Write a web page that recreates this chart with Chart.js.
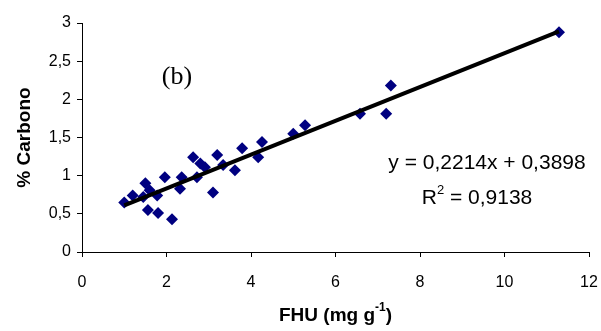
<!DOCTYPE html>
<html>
<head>
<meta charset="utf-8">
<script src="https://cdn.jsdelivr.net/npm/chart.js@4"></script>
<style>
  html, body { margin: 0; padding: 0; background: #fff; }
  #wrap { width: 601px; height: 331px; position: relative; }
</style>
</head>
<body>
<div id="wrap"><canvas id="chart" width="601" height="331"></canvas></div>
<script>
// FHU (mg g-1) values
const fhu = [1.0, 1.2, 1.45, 1.5, 1.6, 1.56, 1.8, 2.13, 1.96, 1.78, 2.32, 2.36,
  2.63, 2.8, 2.72, 2.91, 3.1, 3.2, 3.34, 3.62, 3.79, 4.17, 4.26,
  5.0, 5.28, 6.58, 7.2, 7.31, 11.29];
// % Carbono values
const carbono = [0.65, 0.74, 0.72, 0.9, 0.81, 0.55, 0.51, 0.43, 0.98, 0.74, 0.83, 0.98,
  1.24, 1.16, 0.98, 1.11, 0.78, 1.27, 1.14, 1.07, 1.36, 1.24, 1.44,
  1.55, 1.66, 1.81, 1.81, 2.18, 2.88];

// regression y = a*x + b
const slope = 0.2214;
const intercept = 0.3898;
const rSquared = "0,9138";
const xTicks = [0, 2, 4, 6, 8, 10, 12];
const yTicks = [0, 0.5, 1, 1.5, 2, 2.5, 3];

const points = fhu.map((x, i) => ({ x: x, y: carbono[i] }));
const xMin = Math.min(...fhu);
const xMax = Math.max(...fhu);
const trend = [
  { x: xMin, y: slope * xMin + intercept },
  { x: xMax, y: slope * xMax + intercept },
];

function fmt(v) {
  return String(v).replace(".", ",");
}

const sans = "'Liberation Sans', Arial, sans-serif";

// annotation text: panel label, equation and x title superscript
const labelsPlugin = {
  id: "labels",
  afterDraw(chart) {
    const ctx = chart.ctx;
    const area = chart.chartArea;
    ctx.save();
    ctx.fillStyle = "#000";
    ctx.textBaseline = "middle";
    ctx.textAlign = "center";
    ctx.font = "26px 'Liberation Serif', 'Times New Roman', serif";
    ctx.fillText("(b)", 177, 77);

    ctx.font = "21px " + sans;
    ctx.fillText("y = " + fmt(slope) + "x + " + fmt(intercept), 487, 163);

    const rest = " = " + rSquared;
    const wR = ctx.measureText("R").width;
    ctx.font = "13px " + sans;
    const w2 = ctx.measureText("2").width;
    ctx.font = "21px " + sans;
    const wRest = ctx.measureText(rest).width;
    let x = 477 - (wR + w2 + wRest) / 2;
    const y = 198;
    ctx.textAlign = "left";
    ctx.fillText("R", x, y);
    x += wR;
    ctx.font = "13px " + sans;
    ctx.fillText("2", x, y - 8);
    x += w2;
    ctx.font = "21px " + sans;
    ctx.fillText(rest, x, y);

    // x axis title with superscript
    const main1 = "FHU (mg g";
    const sup = "-1";
    const main2 = ")";
    ctx.font = "bold 19px " + sans;
    const w1 = ctx.measureText(main1).width;
    const w3 = ctx.measureText(main2).width;
    ctx.font = "bold 12px " + sans;
    const ws = ctx.measureText(sup).width;
    let tx = (area.left + area.right) / 2 - (w1 + ws + w3) / 2;
    const ty = 316;
    ctx.font = "bold 19px " + sans;
    ctx.fillText(main1, tx, ty);
    tx += w1;
    ctx.font = "bold 12px " + sans;
    ctx.fillText(sup, tx, ty - 8);
    tx += ws;
    ctx.font = "bold 19px " + sans;
    ctx.fillText(main2, tx, ty);
    ctx.restore();
  },
};

const axisGrid = {
  display: true,
  drawOnChartArea: false,
  drawTicks: true,
  tickLength: 5,
  color: "#000",
};

new Chart(document.getElementById("chart"), {
  type: "scatter",
  data: {
    datasets: [
      {
        label: "datos",
        data: points,
        pointStyle: "rectRot",
        pointRadius: 6,
        backgroundColor: "#000080",
        borderColor: "#000080",
        borderWidth: 0,
        order: 2,
      },
      {
        type: "line",
        label: "tendencia",
        data: trend,
        borderColor: "#000",
        borderWidth: 4,
        pointRadius: 0,
        fill: false,
        order: 1,
      },
    ],
  },
  options: {
    responsive: false,
    animation: false,
    layout: { padding: { top: 23, right: 12, left: 0, bottom: 0 } },
    plugins: {
      legend: { display: false },
      tooltip: { enabled: false },
    },
    scales: {
      x: {
        type: "linear",
        min: 0,
        max: 12,
        afterBuildTicks: (s) => { s.ticks = xTicks.map((v) => ({ value: v })); },
        afterFit: (s) => { s.height = 79; s.paddingRight = 0; s.paddingLeft = 0; },
        grid: axisGrid,
        border: { color: "#000", width: 1 },
        ticks: {
          color: "#000",
          padding: 16,
          font: { family: sans, size: 16 },
          callback: (v) => fmt(v),
        },
        title: { display: false },
      },
      y: {
        type: "linear",
        min: 0,
        max: 3,
        afterBuildTicks: (s) => { s.ticks = yTicks.map((v) => ({ value: v })); },
        afterFit: (s) => { s.width = 82; s.paddingTop = 0; s.paddingBottom = 0; },
        grid: axisGrid,
        border: { color: "#000", width: 1 },
        ticks: {
          color: "#000",
          padding: 6,
          font: { family: sans, size: 16 },
          callback: (v) => fmt(v),
        },
        title: {
          display: true,
          text: "% Carbono",
          color: "#000",
          padding: { top: 13, bottom: 0 },
          font: { family: sans, size: 19, weight: "bold" },
        },
      },
    },
  },
  plugins: [labelsPlugin],
});
</script>
</body>
</html>
